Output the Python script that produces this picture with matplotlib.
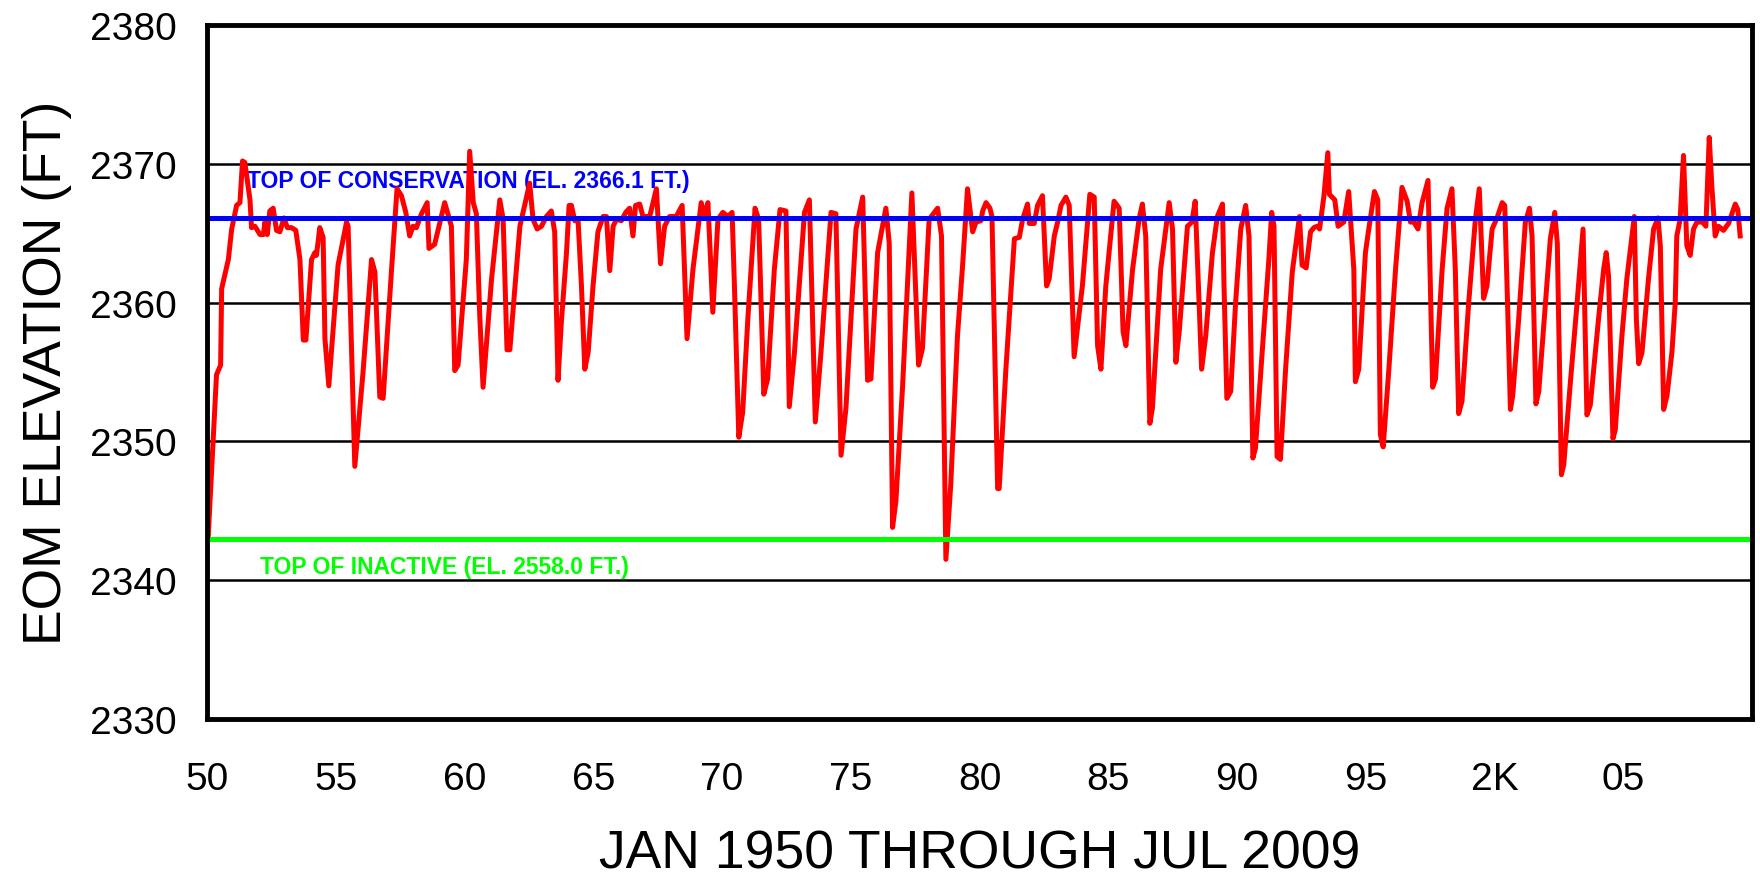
import matplotlib
matplotlib.use('Agg')
import matplotlib.pyplot as plt

plt.rcParams['font.family'] = ['Liberation Sans', 'DejaVu Sans']

# end-of-month elevation (decimal year, ft)
years = [
    1950.05, 1950.37, 1950.53, 1950.57, 1950.83, 1950.96, 1951.15, 1951.28, 1951.38, 1951.47,
    1951.67, 1951.73, 1951.86, 1952.06, 1952.19, 1952.25, 1952.34, 1952.44, 1952.57, 1952.70,
    1952.83, 1952.99, 1953.12, 1953.28, 1953.45, 1953.61, 1953.74, 1953.84, 1954.06, 1954.19,
    1954.25, 1954.38, 1954.51, 1954.58, 1954.73, 1955.09, 1955.42, 1955.48, 1955.74, 1956.06,
    1956.39, 1956.52, 1956.71, 1956.84, 1957.16, 1957.38, 1957.55, 1957.72, 1957.87, 1958.00,
    1958.13, 1958.33, 1958.55, 1958.62, 1958.84, 1959.23, 1959.49, 1959.62, 1959.75, 1959.94,
    1960.07, 1960.20, 1960.34, 1960.46, 1960.59, 1960.72, 1961.05, 1961.37, 1961.50, 1961.65,
    1961.76, 1962.15, 1962.53, 1962.66, 1962.82, 1962.99, 1963.18, 1963.37, 1963.50, 1963.63,
    1963.76, 1963.96, 1964.06, 1964.15, 1964.28, 1964.41, 1964.54, 1964.67, 1964.80, 1964.99,
    1965.18, 1965.38, 1965.51, 1965.64, 1965.77, 1965.90, 1966.09, 1966.26, 1966.41, 1966.54,
    1966.64, 1966.80, 1966.93, 1967.19, 1967.45, 1967.61, 1967.77, 1967.96, 1968.22, 1968.45,
    1968.64, 1968.87, 1969.19, 1969.32, 1969.45, 1969.54, 1969.64, 1969.84, 1970.03, 1970.22,
    1970.39, 1970.48, 1970.65, 1970.80, 1971.00, 1971.28, 1971.42, 1971.62, 1971.77, 1972.03,
    1972.25, 1972.48, 1972.61, 1972.81, 1973.20, 1973.39, 1973.62, 1973.84, 1974.23, 1974.42,
    1974.62, 1974.81, 1975.20, 1975.46, 1975.65, 1975.78, 1976.04, 1976.36, 1976.49, 1976.62,
    1976.75, 1977.01, 1977.37, 1977.63, 1977.78, 1978.04, 1978.37, 1978.52, 1978.69, 1978.88,
    1979.14, 1979.34, 1979.53, 1979.73, 1979.86, 1980.05, 1980.12, 1980.25, 1980.40, 1980.48,
    1980.70, 1980.76, 1981.02, 1981.35, 1981.54, 1981.67, 1981.86, 1981.93, 1982.12, 1982.25,
    1982.44, 1982.60, 1982.70, 1982.90, 1983.03, 1983.16, 1983.35, 1983.48, 1983.67, 1983.99,
    1984.28, 1984.45, 1984.58, 1984.71, 1984.90, 1985.22, 1985.42, 1985.57, 1985.68, 1985.94,
    1986.19, 1986.32, 1986.45, 1986.61, 1986.71, 1987.03, 1987.36, 1987.49, 1987.62, 1987.75,
    1988.07, 1988.24, 1988.37, 1988.52, 1988.62, 1988.78, 1989.04, 1989.23, 1989.43, 1989.49,
    1989.60, 1989.75, 1989.94, 1990.14, 1990.33, 1990.46, 1990.61, 1990.71, 1990.97, 1991.23,
    1991.34, 1991.43, 1991.55, 1991.68, 1991.88, 1992.14, 1992.42, 1992.52, 1992.68, 1992.85,
    1992.98, 1993.11, 1993.20, 1993.37, 1993.52, 1993.58, 1993.79, 1993.92, 1994.14, 1994.33,
    1994.53, 1994.59, 1994.72, 1994.98, 1995.11, 1995.33, 1995.46, 1995.56, 1995.67, 1995.89,
    1996.15, 1996.40, 1996.60, 1996.73, 1996.86, 1997.02, 1997.18, 1997.41, 1997.50, 1997.59,
    1997.70, 1997.96, 1998.15, 1998.34, 1998.47, 1998.60, 1998.73, 1998.99, 1999.25, 1999.40,
    1999.57, 1999.70, 1999.90, 2000.09, 2000.29, 2000.39, 2000.48, 2000.61, 2000.70, 2000.93,
    2001.19, 2001.35, 2001.45, 2001.60, 2001.71, 2001.97, 2002.16, 2002.33, 2002.43, 2002.59,
    2002.68, 2002.94, 2003.20, 2003.43, 2003.49, 2003.58, 2003.71, 2004.03, 2004.23, 2004.33,
    2004.42, 2004.59, 2004.68, 2004.94, 2005.13, 2005.42, 2005.50, 2005.59, 2005.72, 2005.97,
    2006.17, 2006.34, 2006.43, 2006.56, 2006.69, 2006.88, 2007.01, 2007.07, 2007.20, 2007.33,
    2007.46, 2007.59, 2007.72, 2007.85, 2008.07, 2008.20, 2008.33, 2008.43, 2008.56, 2008.69,
    2008.88, 2009.08, 2009.34, 2009.44, 2009.53,
]
elev = [
    2343.2, 2354.8, 2355.5, 2361.0, 2363.1, 2365.3, 2367.0, 2367.2, 2370.2, 2370.1,
    2367.4, 2365.4, 2365.5, 2364.9, 2364.9, 2365.8, 2364.9, 2366.6, 2366.8, 2365.2,
    2365.1, 2366.1, 2365.4, 2365.4, 2365.2, 2363.1, 2357.3, 2357.3, 2363.1, 2363.6,
    2363.4, 2365.4, 2364.7, 2357.4, 2354.0, 2362.7, 2365.8, 2365.5, 2348.2, 2355.0,
    2363.1, 2362.2, 2353.2, 2353.1, 2362.2, 2368.2, 2367.7, 2366.5, 2364.8, 2365.5,
    2365.4, 2366.4, 2367.2, 2363.9, 2364.2, 2367.2, 2365.5, 2355.1, 2355.5, 2360.0,
    2363.1, 2370.9, 2367.2, 2366.4, 2359.1, 2353.9, 2361.7, 2367.4, 2366.0, 2356.6,
    2356.6, 2365.5, 2368.6, 2366.0, 2365.3, 2365.5, 2366.2, 2366.6, 2365.1, 2354.4,
    2358.6, 2363.6, 2367.0, 2367.0, 2365.9, 2365.9, 2361.2, 2355.2, 2356.4, 2361.2,
    2365.1, 2366.2, 2366.2, 2362.3, 2365.5, 2366.0, 2365.9, 2366.5, 2366.8, 2364.8,
    2367.0, 2367.1, 2366.2, 2366.2, 2368.2, 2362.8, 2365.5, 2366.2, 2366.2, 2367.0,
    2357.4, 2362.4, 2367.2, 2366.2, 2367.2, 2363.6, 2359.3, 2366.0, 2366.5, 2366.2,
    2366.5, 2361.2, 2350.3, 2352.1, 2358.8, 2366.8, 2366.0, 2353.4, 2354.5, 2362.4,
    2366.7, 2366.6, 2352.5, 2356.4, 2366.5, 2367.4, 2351.4, 2356.4, 2366.5, 2366.4,
    2349.0, 2352.4, 2365.3, 2367.6, 2354.4, 2354.5, 2363.6, 2366.8, 2364.3, 2343.8,
    2345.7, 2354.0, 2367.9, 2355.5, 2356.7, 2366.0, 2366.8, 2364.8, 2341.5, 2346.9,
    2357.6, 2362.7, 2368.2, 2365.1, 2365.8, 2365.9, 2366.6, 2367.2, 2366.8, 2366.2,
    2346.6, 2346.6, 2355.2, 2364.6, 2364.7, 2366.0, 2367.1, 2365.7, 2365.7, 2367.0,
    2367.7, 2361.2, 2361.7, 2364.8, 2365.8, 2367.0, 2367.6, 2367.0, 2356.1, 2361.2,
    2367.8, 2367.6, 2356.9, 2355.2, 2361.2, 2367.3, 2366.8, 2357.9, 2356.9, 2362.4,
    2366.0, 2367.1, 2364.8, 2351.3, 2352.4, 2362.4, 2367.2, 2365.3, 2355.7, 2357.9,
    2365.5, 2365.8, 2367.3, 2360.0, 2355.2, 2357.6, 2363.6, 2366.2, 2367.1, 2361.2,
    2353.1, 2353.6, 2360.0, 2365.3, 2367.0, 2364.8, 2348.8, 2349.5, 2356.4, 2363.1,
    2366.5, 2365.5, 2348.9, 2348.7, 2355.2, 2362.2, 2366.2, 2362.7, 2362.5, 2365.1,
    2365.4, 2365.5, 2365.3, 2367.7, 2370.8, 2367.8, 2367.4, 2365.5, 2365.8, 2368.0,
    2362.4, 2354.3, 2355.2, 2363.6, 2365.3, 2368.0, 2367.4, 2350.5, 2349.6, 2355.2,
    2362.4, 2368.3, 2367.3, 2365.8, 2365.8, 2365.3, 2367.2, 2368.8, 2361.2, 2353.9,
    2354.5, 2362.4, 2366.8, 2368.2, 2362.4, 2352.0, 2352.9, 2360.0, 2366.0, 2368.2,
    2360.3, 2361.2, 2365.3, 2366.1, 2367.2, 2367.0, 2361.2, 2352.3, 2353.3, 2358.8,
    2365.8, 2366.8, 2364.8, 2352.7, 2353.6, 2360.0, 2364.6, 2366.5, 2364.3, 2347.6,
    2348.3, 2354.3, 2360.0, 2365.3, 2360.0, 2351.9, 2352.6, 2358.8, 2362.4, 2363.6,
    2361.9, 2350.2, 2350.8, 2357.6, 2361.7, 2366.2, 2358.8, 2355.6, 2356.4, 2361.7,
    2365.3, 2366.1, 2364.1, 2352.3, 2353.3, 2356.4, 2360.0, 2364.8, 2366.0, 2370.6,
    2364.1, 2363.4, 2365.3, 2365.8, 2365.8, 2365.5, 2371.9, 2368.4, 2364.8, 2365.5,
    2365.2, 2365.7, 2367.1, 2366.7, 2364.8,
]

top_conservation = 2366.1
top_inactive = 2343.0
conservation_label = 'TOP OF CONSERVATION (EL. 2366.1 FT.)'
inactive_label = 'TOP OF INACTIVE (EL. 2558.0 FT.)'

ytick_vals = [2330, 2340, 2350, 2360, 2370, 2380]
xtick_years = [1950, 1955, 1960, 1965, 1970, 1975, 1980, 1985, 1990, 1995, 2000, 2005]
xtick_labels = ['50', '55', '60', '65', '70', '75', '80', '85', '90', '95', '2K', '05']

fig = plt.figure(figsize=(17.6, 8.78), dpi=100)
ax = fig.add_axes([0.1176, 0.18, 0.878, 0.7904])

ax.plot(years, elev, color='#ff0000', lw=3.6, zorder=3, solid_joinstyle='round')
ax.axhline(top_conservation, color='#0000ff', lw=3.6, zorder=4)
ax.axhline(top_inactive, color='#00ff00', lw=3.6, zorder=4)

ax.text(1951.55, 2368.8, conservation_label, color='#0000ff', fontsize=16.5,
        fontweight='bold', va='center', ha='left', zorder=2)
ax.text(1952.06, 2341.0, inactive_label, color='#00ff00', fontsize=16.5,
        fontweight='bold', va='center', ha='left', zorder=2)

ax.set_xlim(1950, 2010)
ax.set_ylim(2330, 2380)
ax.set_yticks(ytick_vals)
ax.set_xticks(xtick_years)
ax.set_xticklabels(xtick_labels)
ax.tick_params(axis='both', length=0, labelsize=28)
ax.tick_params(axis='x', pad=30)
ax.tick_params(axis='y', pad=22)

ax.grid(axis='y', color='black', lw=1.8, zorder=1)
ax.set_axisbelow(True)
for s in ax.spines.values():
    s.set_linewidth(3.5)
    s.set_color('black')
    s.set_zorder(5)

ax.set_xlabel('JAN 1950 THROUGH JUL 2009', fontsize=38.5, labelpad=23)
ax.set_ylabel('EOM ELEVATION (FT)', fontsize=38.5, labelpad=13)

fig.savefig('out.png', dpi=100)
